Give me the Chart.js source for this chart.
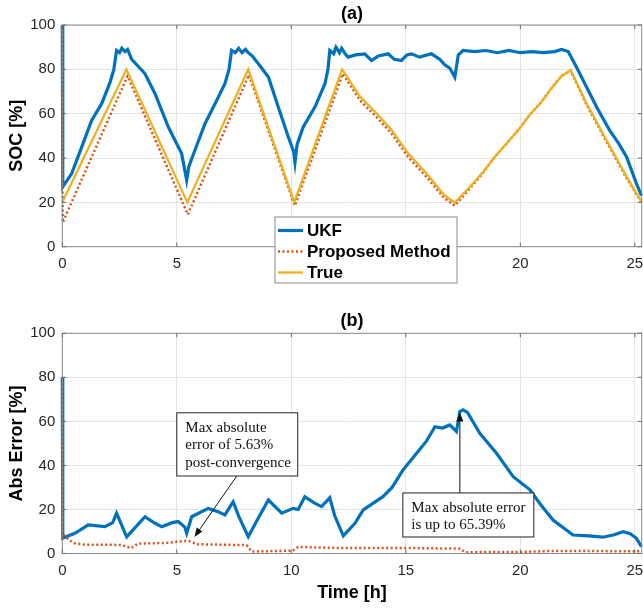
<!DOCTYPE html>
<html>
<head>
<meta charset="utf-8">
<script src="https://cdn.jsdelivr.net/npm/chart.js@4.4.0/dist/chart.umd.min.js"></script>
<style>
  body { margin: 0; background: #fff; }
  #wrap { position: relative; width: 643px; height: 611px; }
  canvas { position: absolute; left: 0; }
  #socChart { top: 0; }
  #errChart { top: 300px; }
</style>
</head>
<body>
<div id="wrap">
  <canvas id="socChart" width="643" height="300"></canvas>
  <canvas id="errChart" width="643" height="311"></canvas>
</div>
<script>
// --- SOC estimates [%] vs time [h] ---
const ukfTime = [0, 0.02, 0.41, 0.85, 1.28, 1.72, 2.08, 2.25, 2.37, 2.5, 2.6, 2.74, 2.85, 3.03, 3.3, 3.61, 4.05, 4.63, 5.21, 5.43, 5.52, 5.79, 6.23, 6.67, 7.1, 7.28, 7.39, 7.55, 7.7, 7.85, 8.0, 8.12, 8.3, 8.56, 9.0, 9.43, 9.87, 10.1, 10.16, 10.25, 10.52, 11.03, 11.47, 11.6, 11.68, 11.85, 11.95, 12.1, 12.2, 12.35, 12.48, 12.8, 13.21, 13.5, 13.8, 14.23, 14.5, 14.81, 15.05, 15.25, 15.6, 16.12, 16.49, 16.7, 16.92, 17.14, 17.29, 17.5, 18.0, 18.5, 19.0, 19.5, 20.0, 20.5, 21.0, 21.5, 21.8, 22.09, 22.45, 22.89, 23.33, 23.9, 24.3, 24.64, 25.07, 25.29];
const ukfSoc = [100, 27, 33, 45, 57, 64.5, 74, 80, 88.5, 87.5, 89.5, 88, 89, 84.5, 81.5, 78, 69, 54, 42, 30, 36, 43.5, 55.5, 64.5, 73.5, 80, 88.5, 87.5, 89.5, 87.5, 89, 87.5, 86, 82.5, 76.5, 63, 49.5, 43, 38, 46, 54, 63, 73.5, 80, 88.5, 87, 90, 87.5, 89.5, 87, 85.5, 86.5, 87, 84, 86, 87, 84.5, 84, 86.5, 87, 85.5, 87, 84.5, 82, 80.5, 76.5, 86.5, 88.5, 88, 88.5, 87.5, 88.5, 87.5, 88, 87.5, 88, 89, 88, 81, 72, 63, 52.5, 46.5, 40.5, 28.5, 23];

const propTime = [0, 0.02, 2.85, 5.48, 8.15, 10.15, 12.25, 13.0, 13.72, 14.38, 15.1, 15.9, 16.67, 17.14, 17.94, 18.38, 18.89, 19.4, 19.98, 20.41, 20.93, 21.36, 21.8, 22.2, 22.89, 23.76, 24.64, 25.29];
const propSoc = [100, 11, 77, 14.5, 77.5, 18.5, 78, 66, 58.5, 51, 40.5, 31.5, 22, 18.5, 28, 33.5, 40.5, 46.5, 53.5, 59.5, 65.5, 71.5, 77, 79.5, 64, 47.5, 31, 20];

const trueTime = [0, 2.8, 5.46, 8.12, 10.13, 12.22, 13.0, 13.72, 14.38, 15.1, 15.9, 16.67, 17.14, 17.94, 18.38, 18.89, 19.4, 19.98, 20.41, 20.93, 21.36, 21.8, 22.2, 22.89, 23.76, 24.64, 25.29];
const trueSoc = [20, 80, 20, 80, 20, 80, 67.7, 60.2, 52.6, 42.1, 33.1, 23.3, 19.8, 28.6, 33.8, 40.6, 46.6, 53.4, 59.4, 65.4, 71.4, 77, 79.5, 64.7, 48.1, 31.6, 20.3];

// --- absolute error [%] vs time [h] ---
const ukfErrTime = [0, 0.02, 0.55, 1.13, 1.86, 2.2, 2.37, 2.81, 3.2, 3.61, 4.0, 4.34, 4.8, 5.06, 5.35, 5.43, 5.65, 6.37, 6.8, 7.1, 7.46, 7.7, 8.12, 8.5, 9.0, 9.58, 10.08, 10.3, 10.59, 11.0, 11.32, 11.68, 11.9, 12.27, 12.78, 13.14, 14.0, 14.4, 14.88, 15.47, 15.9, 16.27, 16.6, 16.92, 17.21, 17.36, 17.5, 17.7, 18.23, 18.96, 19.69, 20.42, 20.9, 21.43, 22.3, 23.0, 23.6, 24.1, 24.49, 24.8, 25.07, 25.29];
const ukfErr = [80, 7, 9.2, 13, 12.2, 14, 18.3, 7.6, 12, 16.7, 14, 12.2, 14, 14.5, 12, 9.2, 16.7, 20.5, 19, 17.5, 23.5, 17, 7.6, 15, 24.3, 18.3, 20.5, 20, 25.8, 23, 21.3, 25.3, 17, 8, 13.7, 19.8, 25.8, 30, 38, 45.5, 51, 57.6, 57, 58.4, 55.4, 64.5, 65.2, 64, 54.6, 45.5, 34.9, 28.9, 22, 15.2, 8.4, 8, 7.4, 8.5, 9.9, 9, 6.9, 3.1];

const propErrTime = [0, 0.02, 0.3, 0.55, 1.0, 2.57, 3.0, 3.3, 4.5, 5.0, 5.5, 5.9, 8.05, 8.27, 10.07, 10.3, 12.0, 15.0, 17.36, 17.6, 20.0, 21.5, 25.29];
const propErr = [80, 9, 6, 4.6, 4, 3.9, 2.4, 4.5, 4.8, 5.3, 5.8, 4.2, 3.8, 0.9, 1.3, 3, 2.5, 2.5, 2.2, 0.6, 0.7, 1.2, 1.0];

const timeTicks = [0, 5, 10, 15, 20, 25];
const percentTicks = [0, 20, 40, 60, 80, 100];
const seriesNames = ['UKF', 'Proposed Method', 'True'];

const BLUE = '#0072BD';
const RED = '#D95319';
const YELLOW = '#EDB120';
const SANS = "'Liberation Sans', Arial, Helvetica, sans-serif";
const SERIF = "'Liberation Serif', 'Times New Roman', serif";

Chart.defaults.font.family = SANS;
Chart.defaults.color = '#262626';

function points(xs, ys) {
    return xs.map((x, i) => ({ x: x, y: ys[i] }));
}

// arrow with filled head, from (x0,y0) to (x1,y1), in pixels
function arrow(ctx, x0, y0, x1, y1) {
    const ang = Math.atan2(y1 - y0, x1 - x0);
    const len = 9, half = 3.5;
    ctx.beginPath();
    ctx.moveTo(x0, y0);
    ctx.lineTo(x1 - len * Math.cos(ang), y1 - len * Math.sin(ang));
    ctx.stroke();
    ctx.beginPath();
    ctx.moveTo(x1, y1);
    ctx.lineTo(x1 - len * Math.cos(ang) + half * Math.sin(ang), y1 - len * Math.sin(ang) - half * Math.cos(ang));
    ctx.lineTo(x1 - len * Math.cos(ang) - half * Math.sin(ang), y1 - len * Math.sin(ang) + half * Math.cos(ang));
    ctx.closePath();
    ctx.fill();
}

// Axes box, inward ticks, titles, notes and legend of one panel
const panelDecor = {
    id: 'panelDecor',
    afterDraw(chart, args, o) {
        const ctx = chart.ctx;
        const a = chart.chartArea;
        const sx = chart.scales.x, sy = chart.scales.y;
        ctx.save();

        ctx.strokeStyle = '#8a8a8a';
        ctx.lineWidth = 1;
        ctx.strokeRect(a.left, a.top, a.right - a.left, a.bottom - a.top);

        ctx.strokeStyle = '#6a6a6a';
        ctx.beginPath();
        timeTicks.forEach(t => {
            const px = sx.getPixelForValue(t);
            ctx.moveTo(px, a.bottom); ctx.lineTo(px, a.bottom - 4);
            ctx.moveTo(px, a.top); ctx.lineTo(px, a.top + 4);
        });
        percentTicks.forEach(t => {
            const py = sy.getPixelForValue(t);
            ctx.moveTo(a.left, py); ctx.lineTo(a.left + 4, py);
            ctx.moveTo(a.right, py); ctx.lineTo(a.right - 4, py);
        });
        ctx.stroke();

        // titles
        ctx.fillStyle = '#000';
        ctx.font = 'bold 18px ' + SANS;
        ctx.textAlign = 'center';
        ctx.textBaseline = 'middle';
        const cx = (a.left + a.right) / 2;
        ctx.fillText(o.title, cx, o.titleY);
        if (o.xTitle) {
            ctx.fillText(o.xTitle, cx, o.xTitleY);
        }
        ctx.save();
        ctx.translate(17, (a.top + a.bottom) / 2);
        ctx.rotate(-Math.PI / 2);
        ctx.fillText(o.yTitle, 0, 0);
        ctx.restore();

        // text notes with arrows
        (o.notes || []).forEach(n => {
            const l = sx.getPixelForValue(n.box[0]), r = sx.getPixelForValue(n.box[2]);
            const t = sy.getPixelForValue(n.box[1]), b = sy.getPixelForValue(n.box[3]);
            ctx.fillStyle = '#fff';
            ctx.fillRect(l, t, r - l, b - t);
            ctx.strokeStyle = '#222';
            ctx.lineWidth = 1;
            ctx.strokeRect(l, t, r - l, b - t);
            ctx.fillStyle = '#111';
            ctx.font = '15px ' + SERIF;
            ctx.textAlign = 'left';
            ctx.textBaseline = 'middle';
            n.lines.forEach((s, i) => ctx.fillText(s, l + 8.5, t + 15 + i * 17.5));
            ctx.strokeStyle = '#111';
            ctx.fillStyle = '#111';
            arrow(ctx, sx.getPixelForValue(n.from[0]), sy.getPixelForValue(n.from[1]),
                sx.getPixelForValue(n.to[0]), sy.getPixelForValue(n.to[1]));
        });

        // legend
        if (o.legend) {
            const g = o.legend;
            ctx.fillStyle = '#fff';
            ctx.fillRect(g.left, g.top, g.width, g.height);
            ctx.strokeStyle = '#8a8a8a';
            ctx.lineWidth = 1;
            ctx.strokeRect(g.left, g.top, g.width, g.height);
            ctx.font = 'bold 17px ' + SANS;
            ctx.textAlign = 'left';
            ctx.textBaseline = 'middle';
            chart.data.datasets.forEach((ds, i) => {
                const y = g.top + 13.5 + i * 21;
                ctx.strokeStyle = ds.borderColor;
                ctx.lineWidth = ds.borderWidth;
                ctx.setLineDash(ds.borderDash || []);
                ctx.beginPath();
                ctx.moveTo(g.left + 3, y);
                ctx.lineTo(g.left + 28, y);
                ctx.stroke();
                ctx.setLineDash([]);
                ctx.fillStyle = '#000';
                ctx.fillText(ds.label, g.left + 32, y + 1);
            });
        }
        ctx.restore();
    }
};

function lineSet(label, xs, ys, color, width, dash, order) {
    return {
        label: label,
        data: points(xs, ys),
        borderColor: color,
        borderWidth: width,
        borderDash: dash,
        pointRadius: 0,
        tension: 0,
        clip: false,
        order: order
    };
}

// keep the plot box fixed: no extra room for half labels at the ends
function noEdgePadding(s) {
    s.paddingLeft = 0;
    s.paddingRight = 0;
    s.paddingTop = 0;
    s.paddingBottom = 0;
}

function panelOptions(pad, xHeight, decor) {
    return {
        responsive: false,
        animation: false,
        layout: { autoPadding: false, padding: { top: pad, right: 1.3, left: 0, bottom: 0 } },
        plugins: {
            legend: { display: false },
            tooltip: { enabled: false },
            panelDecor: decor
        },
        scales: {
            x: {
                type: 'linear',
                min: 0,
                max: 25.3,
                afterFit: s => { s.height = xHeight; noEdgePadding(s); },
                afterBuildTicks: s => { s.ticks = timeTicks.map(v => ({ value: v })); },
                grid: { color: '#e4e4e4', drawTicks: false },
                border: { display: false },
                ticks: { padding: 8, maxRotation: 0, font: { size: 15 } }
            },
            y: {
                min: 0,
                max: 100,
                afterFit: s => { s.width = 62.3; noEdgePadding(s); },
                afterBuildTicks: s => { s.ticks = percentTicks.map(v => ({ value: v })); },
                grid: { color: '#e4e4e4', drawTicks: false },
                border: { display: false },
                ticks: { padding: 7, font: { size: 15 } }
            }
        }
    };
}

// (a) SOC
new Chart(document.getElementById('socChart'), {
    type: 'line',
    data: {
        datasets: [
            lineSet(seriesNames[0], ukfTime, ukfSoc, BLUE, 3.2, [], 2),
            lineSet(seriesNames[1], propTime, propSoc, RED, 2.5, [2, 2.5], 1),
            lineSet(seriesNames[2], trueTime, trueSoc, YELLOW, 2.3, [], 0)
        ]
    },
    options: panelOptions(25, 53.3, {
        title: '(a)',
        titleY: 14,
        yTitle: 'SOC [%]',
        legend: { left: 275, top: 217, width: 182, height: 66 }
    }),
    plugins: [panelDecor]
});

// (b) absolute error
new Chart(document.getElementById('errChart'), {
    type: 'line',
    data: {
        datasets: [
            lineSet(seriesNames[0], ukfErrTime, ukfErr, BLUE, 3.2, [], 1),
            lineSet(seriesNames[1], propErrTime, propErr, RED, 2.5, [2, 2.5], 0)
        ]
    },
    options: panelOptions(33.3, 57.5, {
        title: '(b)',
        titleY: 21,
        xTitle: 'Time [h]',
        xTitleY: 293,
        yTitle: 'Abs Error [%]',
        notes: [
            {
                lines: ['Max absolute', 'error of 5.63%', 'post-convergence'],
                box: [5.0, 63.9, 10.28, 35.2],
                from: [7.62, 35.2],
                to: [5.77, 7.5]
            },
            {
                lines: ['Max absolute error', 'is up to 65.39%'],
                box: [14.87, 27.5, 20.59, 7.5],
                from: [17.36, 27.5],
                to: [17.36, 64]
            }
        ]
    }),
    plugins: [panelDecor]
});
</script>
</body>
</html>
